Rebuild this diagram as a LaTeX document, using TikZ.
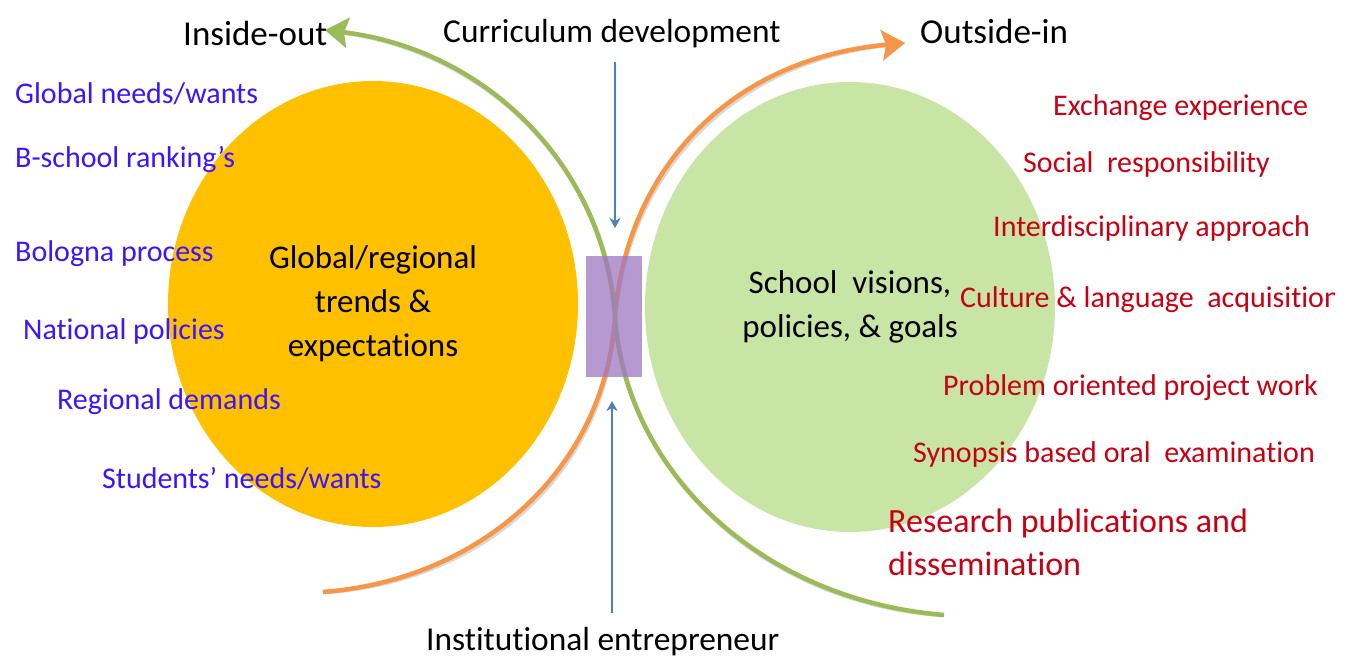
\documentclass[tikz,border=0pt]{standalone}
\usepackage{fontspec}
\setmainfont{Carlito}[Ligatures={TeX,NoCommon}]
\usetikzlibrary{arrows.meta,shapes.geometric}
\definecolor{goldfill}{RGB}{255,192,0}
\definecolor{greenfill}{RGB}{201,229,166}
\definecolor{greenarc}{RGB}{155,187,89}
\definecolor{orangearc}{RGB}{247,150,70}
\definecolor{bluearr}{RGB}{79,129,189}
\definecolor{purplebox}{RGB}{160,120,195}
\definecolor{bluetxt}{RGB}{60,20,255}
\definecolor{redtxt}{RGB}{200,0,20}
\begin{document}
\begin{tikzpicture}[x=1pt,y=-1pt,
  bluelbl/.style={font=\fontsize{30}{36}\selectfont, text=bluetxt, anchor=base west, inner sep=0pt},
  redlbl/.style={font=\fontsize{30}{36}\selectfont, text=redtxt, anchor=base west, inner sep=0pt},
  toplbl/.style={font=\fontsize{33.4}{40}\selectfont, text=black, anchor=base west, inner sep=0pt},
  sidelbl/.style={font=\fontsize{35}{40}\selectfont, text=black, anchor=base west, inner sep=0pt},
  circ/.style={ellipse, inner sep=0pt, align=center, font=\fontsize{33}{44}\selectfont, text=black},
  arcline/.style={line width=4.5pt},
  arcshadow/.style={line width=4.5pt, draw=black, draw opacity=0.15},
  bigtip/.style={-{Stealth[length=23pt,width=30pt,inset=4pt]}},
  smalltip/.style={-{Stealth[length=10pt,width=11pt,inset=3pt]}},
  vline/.style={draw=bluearr, line width=2pt, smalltip}
]
\useasboundingbox (0,0) rectangle (1354,656);
\fill[white] (0,0) rectangle (1354,656);

% circles with their texts
\node[circ, fill=goldfill, minimum width=410pt, minimum height=446pt] (trends) at (373,304)
  {Global/regional\\trends \&\\expectations};
\node[circ, fill=greenfill, minimum width=410pt, minimum height=450pt] (school) at (850,307)
  {School\ \ visions,\\policies, \& goals};

% path ends of the two arcs
\coordinate (gstart) at (944,615);
\coordinate (gend) at (325,30);
\coordinate (ostart) at (323,592);
\coordinate (oend) at (905,43);
\coordinate (cross) at (615,317);

% shadows of the arcs
\begin{scope}[shift={(2,3)}]
\draw[arcshadow, bigtip] (gstart) .. controls (760,600) and (625,470) .. (cross) .. controls (605,170) and (490,50) .. (gend);
\draw[arcshadow, bigtip] (ostart) .. controls (480,580) and (605,470) .. (cross) .. controls (625,180) and (720,60) .. (oend);
\end{scope}

% the two arcs
\draw[arcline, draw=orangearc, bigtip] (ostart) .. controls (480,580) and (605,470) .. (cross) .. controls (625,180) and (720,60) .. (oend);
\draw[arcline, draw=greenarc, bigtip] (gstart) .. controls (760,600) and (625,470) .. (cross) .. controls (605,170) and (490,50) .. (gend);

% central box
\node[fill=purplebox, fill opacity=0.75, minimum width=56pt, minimum height=121pt, inner sep=0pt] (box) at (614,316.5) {};

% top and bottom labels
\node[toplbl] (curr) at (443,42) {Curriculum development};
\node[sidelbl] (inside) at (183,45) {Inside-out};
\node[sidelbl] (outside) at (920,43) {Outside-in};
\node[toplbl] (inst) at (426,650) {Institutional entrepreneur};

% blue arrows
\coordinate (ctop) at (615,62);
\coordinate (ctip) at (615,228);
\coordinate (ibot) at (612,613);
\coordinate (itip) at (612,401);
\draw[vline] (ctop) -- (ctip);
\draw[vline] (ibot) -- (itip);

% left labels
\node[bluelbl] (gn) at (15,103) {Global needs/wants};
\node[bluelbl] (bs) at (15,167) {B-school ranking's};
\node[bluelbl] (bp) at (15,261) {Bologna process};
\node[bluelbl] (np) at (23,339) {National policies};
\node[bluelbl] (rd) at (57,409) {Regional demands};
\node[bluelbl] (sn) at (102,488) {Students' needs/wants};

% right labels
\begin{scope}
\clip (0,0) rectangle (1334,656);
\node[redlbl] (ee) at (1053,115) {Exchange experience};
\node[redlbl] (sr) at (1023,172) {Social\ \ responsibility};
\node[redlbl] (ia) at (993,236) {Interdisciplinary approach};
\node[redlbl] (cl) at (960,307) {Culture \& language\ \ acquisition};
\node[redlbl] (pp) at (943,395) {Problem oriented project work};
\node[redlbl] (sb) at (913,462) {Synopsis based oral\ \ examination};
\node[redlbl, anchor=west, align=left, font=\fontsize{34}{43}\selectfont] (rp) at (888,542) {Research publications and\\dissemination};
\end{scope}
\end{tikzpicture}
\end{document}
